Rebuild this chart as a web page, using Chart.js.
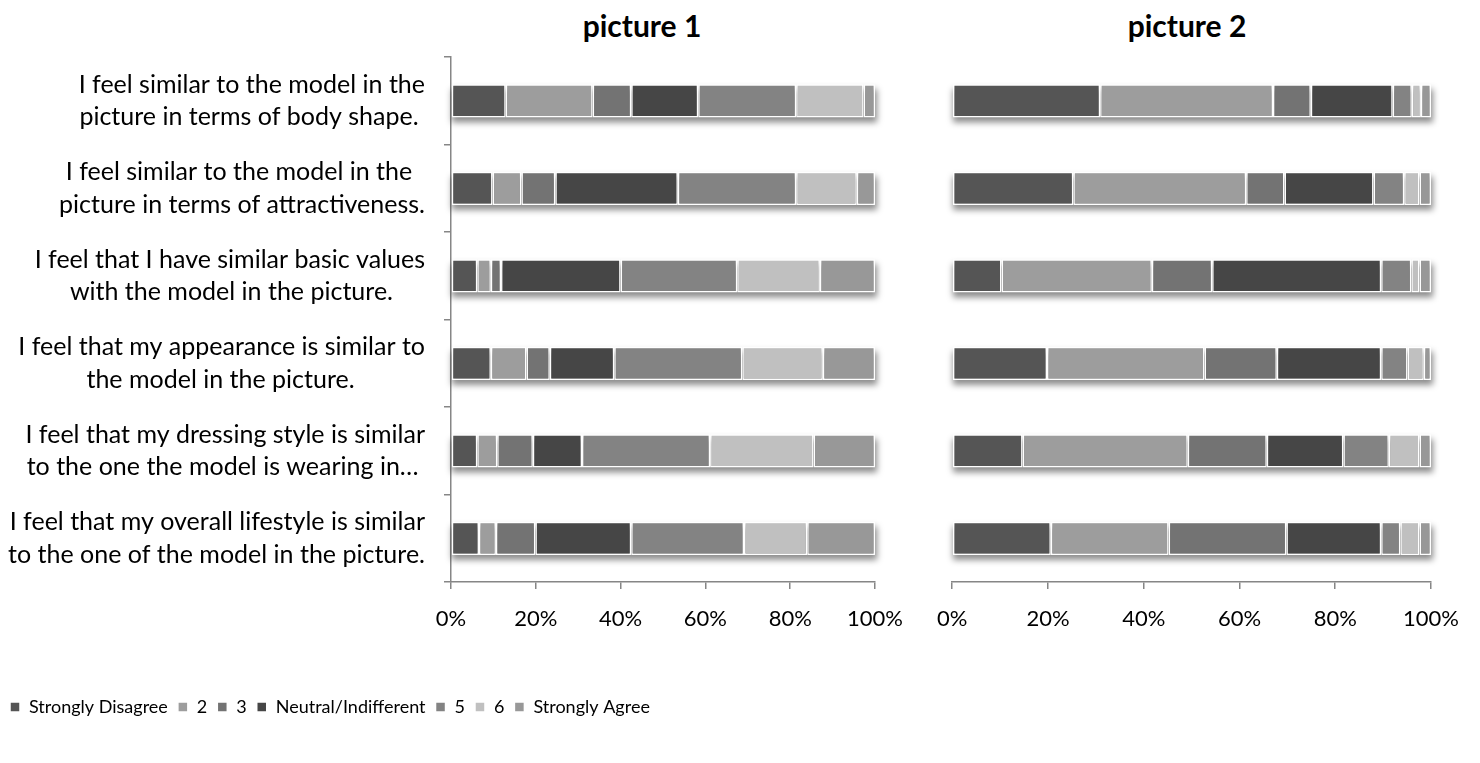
<!DOCTYPE html>
<html>
<head>
<meta charset="utf-8">
<script src="https://cdn.jsdelivr.net/npm/chart.js@4.4.1/dist/chart.umd.min.js"></script>
<style>
    body { margin: 0; background: #fff; font-family: Lato, sans-serif; }
    #wrap { position: relative; width: 1480px; height: 763px; }
    .box { position: absolute; top: 0; height: 763px; }
    .titulo { position: absolute; top: 7px; font: bold 30px Lato, sans-serif; color: #000; transform: translateX(-50%); white-space: nowrap; }
</style>
</head>
<body>
<div id="wrap">
    <div class="titulo" style="left:642px">picture 1</div>
    <div class="titulo" style="left:1187px">picture 2</div>
    <div class="box" style="left:0;width:920px"><canvas id="chartPic1"></canvas></div>
    <div class="box" style="left:920px;width:560px"><canvas id="chartPic2"></canvas></div>
</div>
<script>
// categorias (cada una en dos lineas como en el original)
const categorias = [
    ['I feel similar to the model in the', 'picture in terms of body shape.'],
    ['I feel similar to the model in the', 'picture in terms of attractiveness.'],
    ['I feel that I have similar basic values', 'with the model in the picture.'],
    ['I feel that my appearance is similar to', 'the model in the picture.'],
    ['I feel that my dressing style is similar', 'to the one the model is wearing in\u2026'],
    ['I feel that my overall lifestyle is similar', 'to the one of the model in the picture.']
]
const series = ['Strongly Disagree', '2', '3', 'Neutral/Indifferent', '5', '6', 'Strongly Agree']
const xTicks = [0, 20, 40, 60, 80, 100]

// picture 1 (% por categoria)
const p1StronglyDisagree = [12.9, 9.8, 6.2, 9.4, 6.2, 6.6]
const p1Dos = [20.5, 6.8, 3.2, 8.4, 4.7, 4.0]
const p1Tres = [9.1, 8.0, 2.4, 5.5, 8.4, 9.3]
const p1Neutral = [15.8, 28.9, 28.2, 15.2, 11.6, 22.6]
const p1Cinco = [23.1, 27.9, 27.5, 30.2, 30.2, 26.6]
const p1Seis = [15.9, 14.3, 19.5, 19.0, 24.4, 14.9]
const p1StronglyAgree = [2.7, 4.3, 13.0, 12.3, 14.5, 16.0]

// picture 2
const p2StronglyDisagree = [30.9, 25.3, 10.3, 19.8, 14.7, 20.6]
const p2Dos = [36.1, 36.1, 31.4, 32.9, 34.5, 24.6]
const p2Tres = [7.9, 8.0, 12.6, 15.1, 16.5, 24.6]
const p2Neutral = [17.1, 18.6, 35.3, 21.8, 16.0, 19.8]
const p2Cinco = [4.0, 6.4, 6.3, 5.5, 9.5, 4.0]
const p2Seis = [1.9, 3.2, 1.7, 3.4, 6.4, 4.0]
const p2StronglyAgree = [2.1, 2.4, 2.4, 1.5, 2.4, 2.4]

const colores = ['#555555', '#9d9d9d', '#737373', '#464646', '#838383', '#c0c0c0', '#989898']

const fuente = 'Lato, sans-serif'
const gris = '#868686'
Chart.defaults.color = '#000'
Chart.defaults.font.family = fuente

// centra la linea corta respecto a la larga rellenando con espacios
const medidor = document.createElement('canvas').getContext('2d')
medidor.font = '25px ' + fuente
const centrarLineas = lineas => {
    const anchos = lineas.map(l => medidor.measureText(l).width)
    const max = Math.max(...anchos)
    const esp = medidor.measureText(' ').width
    return lineas.map((l, i) => l + ' '.repeat(Math.round((max - anchos[i]) / 2 / esp)))
}

const sombraBarras = {
    id: 'sombraBarras',
    beforeDatasetsDraw(chart) {
        const ctx = chart.ctx
        const n = chart.data.datasets.length
        const primero = chart.getDatasetMeta(0).data
        const ultimo = chart.getDatasetMeta(n - 1).data
        ctx.save()
        ctx.fillStyle = 'rgba(0,0,0,0.45)'
        ctx.filter = 'blur(3px)'
        primero.forEach((bar, i) => {
            const x0 = bar.base
            const x1 = ultimo[i].x
            ctx.fillRect(x0, bar.y - bar.height / 2 + 5, x1 - x0 + 2, bar.height)
        })
        ctx.restore()
    }
}

const armarDatasets = valores => valores.map((data, i) => ({
    label: series[i],
    data,
    backgroundColor: colores[i],
    borderColor: '#ffffff',
    borderWidth: 1.5,
    borderSkipped: false,
    barPercentage: 0.38,
    categoryPercentage: 1
}))

const ejeX = {
    type: 'linear',
    stacked: true,
    min: 0,
    max: 100,
    afterBuildTicks: scale => { scale.ticks = xTicks.map(v => ({value: v})) },
    afterFit: scale => { scale.height = 106 },
    ticks: {
        callback: v => v + '%',
        font: {size: 22},
        padding: 17,
        maxRotation: 0
    },
    grid: {drawOnChartArea: false, tickLength: 7, color: gris, lineWidth: 1.5},
    border: {color: gris, width: 1.5}
}

const renderPicture = (id, valores, conEtiquetas) => {
    const data = {
        labels: categorias,
        datasets: armarDatasets(valores)
    }
    const options = {
        indexAxis: 'y',
        responsive: false,
        animation: false,
        layout: {
            padding: conEtiquetas
                ? {top: 57, left: 0, right: 42, bottom: 37}
                : {top: 57, left: 31, right: 49, bottom: 75}
        },
        scales: {
            x: ejeX,
            y: {
                stacked: true,
                display: conEtiquetas,
                afterFit: scale => { if (conEtiquetas) scale.width = 451 },
                ticks: {
                    callback: (v, i) => centrarLineas(categorias[i]),
                    font: {size: 25, lineHeight: 1.3},
                    padding: 19,
                    crossAlign: 'near'
                },
                grid: {drawOnChartArea: false, tickLength: 7, color: gris, lineWidth: 1.5, offset: true},
                border: {color: gris, width: 1.5}
            }
        },
        plugins: {
            legend: {
                display: conEtiquetas,
                position: 'bottom',
                align: 'start',
                labels: {
                    boxWidth: 10,
                    boxHeight: 10,
                    padding: 10,
                    font: {size: 18},
                    useBorderRadius: false
                }
            },
            tooltip: {enabled: false}
        }
    }
    const canvas = document.getElementById(id)
    canvas.width = conEtiquetas ? 920 : 560
    canvas.height = 763
    return new Chart(canvas, {type: 'bar', data, options, plugins: [sombraBarras]})
}

renderPicture('chartPic1', [p1StronglyDisagree, p1Dos, p1Tres, p1Neutral, p1Cinco, p1Seis, p1StronglyAgree], true)
renderPicture('chartPic2', [p2StronglyDisagree, p2Dos, p2Tres, p2Neutral, p2Cinco, p2Seis, p2StronglyAgree], false)
</script>
</body>
</html>
